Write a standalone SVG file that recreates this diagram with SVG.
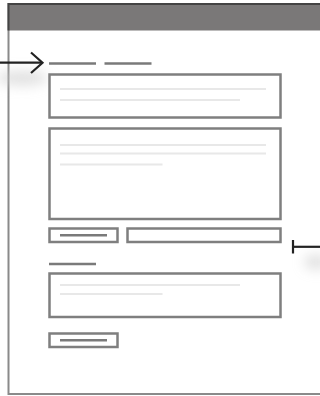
<svg xmlns="http://www.w3.org/2000/svg" width="320" height="396" viewBox="0 0 320 396">
  <defs>
    <style>
      .box { fill: #ffffff; stroke: #7f7f7f; stroke-width: 2.5; }
      .txt { stroke: #e8e8e8; stroke-width: 2; fill: none; }
      .bar { stroke: #7a7a7a; stroke-width: 2.5; fill: none; }
      .ptr { stroke: #222222; stroke-width: 2.2; fill: none; stroke-linecap: butt; }
      .shadow { fill: #c8c8c8; opacity: 0.5; }
    </style>
    <filter id="blur" x="-50%" y="-50%" width="200%" height="200%">
      <feGaussianBlur stdDeviation="6"/>
    </filter>
  </defs>
  <rect x="0" y="0" width="320" height="396" fill="#ffffff"/>

  <g id="page">
    <rect x="8.5" y="4" width="330" height="390" fill="#ffffff" stroke="#8a8a8a" stroke-width="2"/>
    <rect x="8.5" y="4" width="330" height="26.5" fill="#7a7878"/>
    <path d="M8.5 30.5 V4 H330" fill="none" stroke="#444444" stroke-width="2"/>
  </g>

  <g id="shadows" filter="url(#blur)">
    <ellipse class="shadow" cx="22" cy="78" rx="26" ry="8"/>
    <ellipse class="shadow" cx="316" cy="262" rx="12" ry="8"/>
  </g>

  <g id="title">
    <line class="bar" x1="49" y1="63.5" x2="96" y2="63.5"/>
    <line class="bar" x1="104.5" y1="63.5" x2="151.5" y2="63.5"/>
  </g>

  <g id="box1">
    <rect class="box" x="49.5" y="74.5" width="231" height="43"/>
    <line class="txt" x1="60" y1="89" x2="266" y2="89"/>
    <line class="txt" x1="60" y1="100" x2="240" y2="100"/>
  </g>

  <g id="box2">
    <rect class="box" x="49.5" y="128.5" width="231" height="90.5"/>
    <line class="txt" x1="60" y1="145" x2="266" y2="145"/>
    <line class="txt" x1="60" y1="153.5" x2="266" y2="153.5"/>
    <line class="txt" x1="60" y1="164.5" x2="162.5" y2="164.5"/>
  </g>

  <g id="button1">
    <rect class="box" x="49.5" y="228.5" width="68" height="13.5"/>
    <line class="bar" x1="60" y1="235.2" x2="107" y2="235.2"/>
  </g>

  <g id="field1">
    <rect class="box" x="127.5" y="228.5" width="153" height="13.5"/>
  </g>

  <g id="subtitle">
    <line class="bar" x1="49" y1="264" x2="96" y2="264"/>
  </g>

  <g id="box3">
    <rect class="box" x="49.5" y="273.5" width="231" height="43.5"/>
    <line class="txt" x1="60" y1="285" x2="240" y2="285"/>
    <line class="txt" x1="60" y1="294" x2="162.5" y2="294"/>
  </g>

  <g id="button2">
    <rect class="box" x="49.5" y="333.5" width="68" height="13.5"/>
    <line class="bar" x1="60" y1="340.3" x2="107" y2="340.3"/>
  </g>

  <g id="connectors">
    <line class="ptr" x1="0" y1="62.7" x2="42" y2="62.7"/>
    <polyline class="ptr" points="31,52.5 42.5,62.7 31,73" stroke-linejoin="miter"/>
    <line class="ptr" x1="293" y1="246.8" x2="320" y2="246.8"/>
    <line class="ptr" x1="293" y1="240" x2="293" y2="253.5" stroke-width="2.6"/>
  </g>
</svg>
